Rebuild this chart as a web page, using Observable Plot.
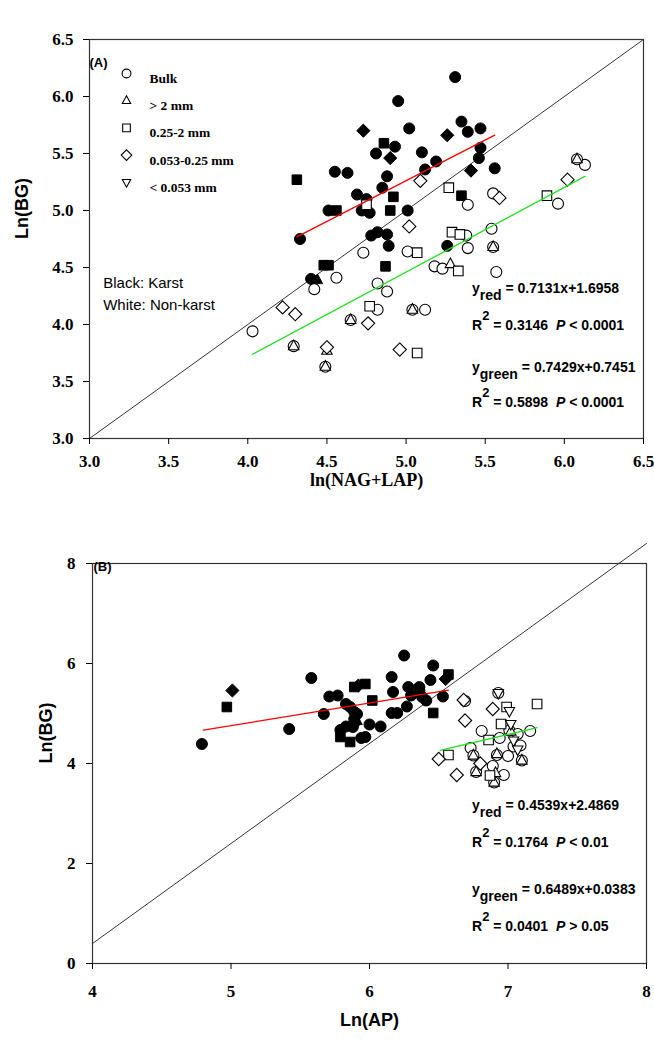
<!DOCTYPE html>
<html><head><meta charset="utf-8">
<script src="https://cdn.jsdelivr.net/npm/d3@7"></script>
<script src="https://cdn.jsdelivr.net/npm/@observablehq/plot@0.6"></script>
<style>
body{margin:0;background:#fff}
#wrap{position:relative;width:654px;height:1039px;background:#fff;overflow:hidden}
#wrap svg{position:absolute;left:0}
.eq{position:absolute;left:472px;font-family:"Liberation Sans",Arial,sans-serif;font-weight:bold;font-size:14px;line-height:14px;white-space:nowrap;color:#000}
.eq sub{font-size:14px;vertical-align:-7px;line-height:0}
.eq sup{font-size:13px;vertical-align:10px;line-height:0}
</style></head><body><div id="wrap"></div>
<script>
// ---------- data ----------
const fractions = ["Bulk", "> 2 mm", "0.25-2 mm", "0.053-0.25 mm", "< 0.053 mm"]; // index used in *F arrays

// Panel A: ln(NAG+LAP) vs Ln(BG)
const aKarstX = [5.31,4.95,5.02,4.73,5.35,5.26,4.86,4.93,4.81,4.90,5.10,5.19,4.55,4.63,5.12,4.31,4.88,4.85,4.69,4.75,4.92,5.35,4.51,4.56,4.72,4.77,4.90,5.01,4.78,4.82,4.88,4.33,4.89,5.26,5.39,5.47,5.47,5.46,5.41,5.56,4.48,4.51,4.40,4.44,4.87];
const aKarstY = [6.17,5.96,5.72,5.70,5.78,5.66,5.59,5.56,5.50,5.46,5.51,5.43,5.34,5.33,5.36,5.27,5.30,5.20,5.14,5.10,5.12,5.13,5.00,5.00,5.00,4.98,5.00,5.00,4.78,4.81,4.79,4.75,4.69,4.69,5.69,5.72,5.55,5.46,5.35,5.37,4.52,4.52,4.40,4.39,4.51];
const aKarstF = [0,0,0,3,0,3,2,0,0,3,0,0,0,0,0,2,0,0,0,0,2,2,0,2,0,0,2,0,0,0,0,0,0,0,0,0,0,0,3,0,2,2,0,1,2];

const aNonX = [4.03,4.42,4.56,4.73,4.82,4.88,4.82,5.01,5.12,5.18,5.23,5.39,5.38,5.39,5.54,5.55,5.57,5.96,6.13,4.29,4.49,4.65,5.04,5.55,6.08,
  4.29,4.49,4.50,4.65,5.04,5.28,5.55,6.08,
  4.75,4.77,5.07,5.07,5.27,5.29,5.34,5.33,5.89,
  4.22,4.30,4.50,4.76,4.96,5.02,5.09,5.59,6.02];
const aNonY = [3.94,4.31,4.41,4.63,4.36,4.29,4.13,4.64,4.13,4.51,4.49,4.67,4.78,5.05,4.84,5.15,4.46,5.06,5.40,3.81,3.63,4.04,4.13,4.68,5.45,
  3.81,3.63,3.77,4.04,4.13,4.53,4.68,5.45,
  5.05,4.16,4.63,3.75,5.20,4.81,4.79,4.47,5.13,
  4.15,4.09,3.80,4.01,3.78,4.86,5.26,5.11,5.27];
const aNonF = [0,0,0,0,0,0,0,0,0,0,0,0,0,0,0,0,0,0,0,0,0,0,0,0,0,
  1,1,1,1,1,1,1,1,
  2,2,2,2,2,2,2,2,2,
  3,3,3,3,3,3,3,3,3];

const aTicks = [3.0,3.5,4.0,4.5,5.0,5.5,6.0,6.5];
const aOneToOneX = [3.0, 6.5];
const aOneToOneY = [3.0, 6.5];
const aFitSlope = [0.7131, 0.7429];      // red (karst), green (non-karst)
const aFitIntercept = [1.6958, 0.7451];
const aFitFrom = [4.31, 4.03];
const aFitTo = [5.56, 6.13];

// Panel B: Ln(AP) vs Ln(BG)
const bKarstX = [4.79,4.97,5.01,5.42,5.58,5.67,5.71,5.77,5.79,5.79,5.83,5.83,5.86,5.86,5.89,5.92,5.97,5.89,5.89,5.91,5.94,5.97,6.00,6.08,6.02,6.16,6.17,6.25,6.16,6.20,6.27,6.28,6.36,6.30,6.38,6.41,6.44,6.46,6.46,6.53,6.55,6.57,6.36,5.89,5.88,5.91];
const bKarstY = [4.39,5.13,5.46,4.69,5.71,4.99,5.34,5.36,4.67,4.53,5.19,4.74,4.43,5.13,5.53,5.56,5.59,5.03,4.81,4.99,4.51,4.53,4.78,4.74,5.26,5.73,5.43,6.16,5.01,5.01,5.14,5.53,5.53,5.36,5.33,5.26,5.67,5.96,5.01,5.34,5.69,5.78,5.46,4.89,4.73,4.85];
const bKarstF = [0,2,3,0,0,0,0,0,0,2,0,0,2,0,2,3,2,0,0,0,0,0,0,0,2,0,0,0,0,0,0,0,0,0,0,0,0,0,2,0,3,2,0,0,0,1];

const bNonX = [6.69,6.73,6.81,6.75,6.77,6.93,6.94,7.01,7.07,7.16,6.92,7.00,7.04,7.09,7.10,6.89,6.97,6.90,
  6.75,6.77,6.92,7.10,6.91,6.90,7.02,
  6.57,6.87,6.86,6.95,6.99,7.21,
  6.50,6.63,6.69,6.68,6.80,6.89,
  6.93,7.01,7.02,7.04,7.07];
const bNonY = [5.25,4.31,4.65,4.16,3.83,5.41,4.51,4.66,4.59,4.65,4.17,4.15,4.34,4.36,4.06,3.95,3.77,3.62,
  4.16,3.83,4.19,4.06,3.81,3.62,4.64,
  4.17,3.76,4.47,4.79,5.13,5.19,
  4.09,3.77,4.86,5.27,4.00,5.09,
  5.41,5.05,4.79,4.46,4.28];
const bNonF = [0,0,0,0,0,0,0,0,0,0,0,0,0,0,0,0,0,0,
  1,1,1,1,1,1,1,
  2,2,2,2,2,2,
  3,3,3,3,3,3,
  4,4,4,4,4];

const bXTicks = [4,5,6,7,8];
const bYTicks = [0,2,4,6,8];
const bOneToOneX = [4, 8];
const bOneToOneY = [0.4, 8.4];
const bFitSlope = [0.4539, 0.6489];
const bFitIntercept = [2.4869, 0.0383];
const bFitFrom = [4.80, 6.51];
const bFitTo = [6.57, 7.21];

// ---------- symbols ----------
function shape(kind) {
  return {draw(ctx, size) {
    const r = Math.sqrt(size / Math.PI);
    if (kind === 0) { ctx.moveTo(r, 0); ctx.arc(0, 0, r, 0, 2 * Math.PI); }
    else if (kind === 1) { ctx.moveTo(0, -1.1*r); ctx.lineTo(0.95*r, 0.65*r); ctx.lineTo(-0.95*r, 0.65*r); ctx.closePath(); }
    else if (kind === 2) { const h = 0.87*r; ctx.moveTo(-h,-h); ctx.lineTo(h,-h); ctx.lineTo(h,h); ctx.lineTo(-h,h); ctx.closePath(); }
    else if (kind === 3) { const h = 1.2*r; ctx.moveTo(0,-h); ctx.lineTo(h,0); ctx.lineTo(0,h); ctx.lineTo(-h,0); ctx.closePath(); }
    else { ctx.moveTo(0, 1.1*r); ctx.lineTo(0.95*r, -0.65*r); ctx.lineTo(-0.95*r, -0.65*r); ctx.closePath(); }
  }};
}
const symbols = [0,1,2,3,4].map(shape);

const rows = (X, Y, F) => X.map((x, i) => ({x, y: Y[i], f: F[i]}));
const pairs = (X, Y) => X.map((x, i) => ({x, y: Y[i]}));
const fitLine = (s, b, x0, x1) => [{x: x0, y: s*x0 + b}, {x: x1, y: s*x1 + b}];

const SERIF = "Liberation Serif, Times New Roman, serif";
const SANS = "Liberation Sans, Arial, sans-serif";
const R = 5.5;

function pointMarks(karst, non) {
  const m = [];
  for (let k = 0; k < 5; k++) m.push(Plot.dot(karst, {filter: d => d.f === k, x: "x", y: "y", r: R, symbol: symbols[k], fill: "#000", stroke: "#000", strokeWidth: 1}));
  for (let k = 0; k < 5; k++) m.push(Plot.dot(non, {filter: d => d.f === k, x: "x", y: "y", r: R, symbol: symbols[k], fill: "#fff", stroke: "#000", strokeWidth: 1.1}));
  return m;
}

// axis: tick marks from Plot's axis mark, tick labels as text marks on the same scales
function axisMarks(xTicks, yTicks, fmt, size, xLabelDy, yLabelDx) {
  return [
    Plot.axisX({ticks: xTicks, tickSize: 6, fill: "none", stroke: "#000", label: null}),
    Plot.axisY({ticks: yTicks, tickSize: 6, fill: "none", stroke: "#000", label: null}),
    Plot.text(xTicks, {x: d => d, text: fmt, frameAnchor: "bottom", dy: xLabelDy, lineAnchor: "top", fontFamily: SERIF, fontWeight: "bold", fontSize: size}),
    Plot.text(yTicks, {y: d => d, text: fmt, frameAnchor: "left", dx: yLabelDx, textAnchor: "end", fontFamily: SERIF, fontWeight: "bold", fontSize: size})
  ];
}

const wrap = document.getElementById("wrap");

// ---------- Panel A ----------
const fmt1 = d3.format(".1f");
const fmt0 = d3.format("d");
const legendMarks = [];
fractions.forEach((lab, i) => {
  legendMarks.push(Plot.dot([lab], {frameAnchor: "top-left", dx: 37, dy: 34 + 27.2*i, r: 4.4, symbol: symbols[i], fill: "#fff", stroke: "#000", strokeWidth: 1.1}));
  legendMarks.push(Plot.text([lab], {text: d => d, frameAnchor: "top-left", dx: 60, dy: 34 + 27.2*i, textAnchor: "start", fontFamily: SERIF, fontWeight: "bold", fontSize: 13.5}));
});

const plotA = Plot.plot({
  width: 654, height: 500,
  marginLeft: 89, marginRight: 11, marginTop: 39, marginBottom: 62,
  style: {background: "transparent", color: "#000"},
  x: {domain: [3, 6.5]},
  y: {domain: [3, 6.5]},
  marks: [
    Plot.line(pairs(aOneToOneX, aOneToOneY), {x: "x", y: "y", stroke: "#000", strokeWidth: 0.8}),
    ...pointMarks(rows(aKarstX, aKarstY, aKarstF), rows(aNonX, aNonY, aNonF)),
    Plot.line(fitLine(aFitSlope[0], aFitIntercept[0], aFitFrom[0], aFitTo[0]), {x: "x", y: "y", stroke: "#ff0000", strokeWidth: 1.3}),
    Plot.line(fitLine(aFitSlope[1], aFitIntercept[1], aFitFrom[1], aFitTo[1]), {x: "x", y: "y", stroke: "#22e022", strokeWidth: 1.3}),
    Plot.frame({stroke: "#333", strokeWidth: 1.2}),
    ...axisMarks(aTicks, aTicks, fmt1, 17, 16, -16),
    Plot.text(["Ln(BG)"], {text: d => d, frameAnchor: "left", dx: -67, rotate: -90, fontFamily: SANS, fontWeight: "bold", fontSize: 18}),
    Plot.text(["ln(NAG+LAP)"], {text: d => d, frameAnchor: "bottom", dy: 47, fontFamily: SERIF, fontWeight: "bold", fontSize: 18}),
    Plot.text(["(A)"], {text: d => d, frameAnchor: "top-left", dx: 0, dy: 18.5, textAnchor: "start", fontFamily: SANS, fontWeight: "bold", fontSize: 13}),
    Plot.text(["Black: Karst"], {text: d => d, frameAnchor: "top-left", dx: 13.7, dy: 238, textAnchor: "start", fontFamily: SANS, fontWeight: "normal", fontSize: 15}),
    Plot.text(["White: Non-karst"], {text: d => d, frameAnchor: "top-left", dx: 13.7, dy: 259.5, textAnchor: "start", fontFamily: SANS, fontWeight: "normal", fontSize: 15}),
    ...legendMarks
  ]
});
plotA.style.top = "0px";
wrap.appendChild(plotA);

// ---------- Panel B ----------
const plotB = Plot.plot({
  width: 654, height: 539,
  marginLeft: 92, marginRight: 8, marginTop: 63, marginBottom: 76,
  style: {background: "transparent", color: "#000"},
  x: {domain: [4, 8]},
  y: {domain: [0, 8]},
  marks: [
    Plot.line(pairs(bOneToOneX, bOneToOneY), {x: "x", y: "y", stroke: "#000", strokeWidth: 0.8}),
    ...pointMarks(rows(bKarstX, bKarstY, bKarstF), rows(bNonX, bNonY, bNonF)),
    Plot.line(fitLine(bFitSlope[0], bFitIntercept[0], bFitFrom[0], bFitTo[0]), {x: "x", y: "y", stroke: "#ff0000", strokeWidth: 1.3}),
    Plot.line(fitLine(bFitSlope[1], bFitIntercept[1], bFitFrom[1], bFitTo[1]), {x: "x", y: "y", stroke: "#22e022", strokeWidth: 1.3}),
    Plot.frame({stroke: "#333", strokeWidth: 1.2}),
    ...axisMarks(bXTicks, bYTicks, fmt0, 17, 21, -17),
    Plot.text(["Ln(BG)"], {text: d => d, frameAnchor: "left", dx: -46, rotate: -90, fontFamily: SANS, fontWeight: "bold", fontSize: 18}),
    Plot.text(["Ln(AP)"], {text: d => d, frameAnchor: "bottom", dy: 62, fontFamily: SANS, fontWeight: "bold", fontSize: 18}),
    Plot.text(["(B)"], {text: d => d, frameAnchor: "top-left", dx: 1, dy: -1.5, textAnchor: "start", fontFamily: SANS, fontWeight: "bold", fontSize: 13})
  ]
});
plotB.style.top = "500px";
wrap.appendChild(plotB);

// ---------- regression annotations ----------
const eqs = [
  {top: 281.2, html: 'y<sub>red</sub> = 0.7131x+1.6958'},
  {top: 316.2, html: 'R<sup>2</sup> = 0.3146&nbsp;&nbsp;<i>P</i> &lt; 0.0001'},
  {top: 360.2, html: 'y<sub>green</sub> = 0.7429x+0.7451'},
  {top: 393.2, html: 'R<sup>2</sup> = 0.5898&nbsp;&nbsp;<i>P</i> &lt; 0.0001'},
  {top: 798.2, html: 'y<sub>red</sub> = 0.4539x+2.4869'},
  {top: 833.2, html: 'R<sup>2</sup> = 0.1764&nbsp;&nbsp;<i>P</i> &lt; 0.01'},
  {top: 882.2, html: 'y<sub>green</sub> = 0.6489x+0.0383'},
  {top: 917.2, html: 'R<sup>2</sup> = 0.0401&nbsp;&nbsp;<i>P</i> &gt; 0.05'}
];
eqs.forEach(e => {
  const d = document.createElement("div");
  d.className = "eq";
  d.style.top = e.top + "px";
  d.innerHTML = e.html;
  wrap.appendChild(d);
});
</script>
</body></html>
